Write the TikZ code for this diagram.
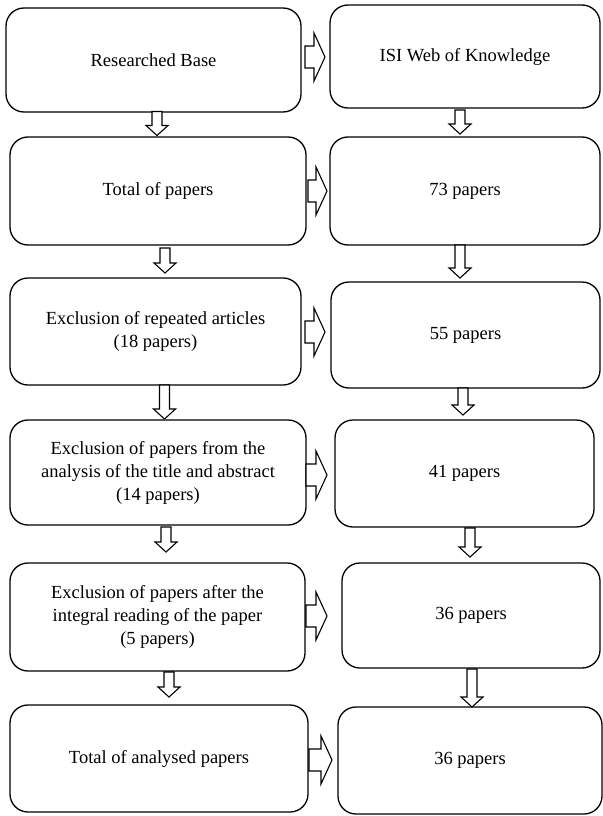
\documentclass[tikz,border=0pt]{standalone}
\usepackage{fontspec}
\setmainfont{Liberation Serif}
\tikzset{
  stepbox/.style={draw,rounded corners=18pt,line width=1.3pt,align=center,
    font=\fontsize{18.5}{23}\selectfont,inner sep=0pt},
  block/.style={draw,fill=white,line width=1.1pt,line join=miter},
  % hollow arrow pointing down, #1 = length
  pics/down arrow/.style={code={
    \draw[block] (-5,0) -- (5,0) -- (5,{#1-10}) -- (11,{#1-10}) -- (0,#1)
      -- (-11,{#1-10}) -- (-5,{#1-10}) -- cycle;}},
  % hollow arrow pointing right, #1 = length
  pics/side arrow/.style={code={
    \draw[block] (0,-11) -- ({#1-11},-11) -- ({#1-11},-24) -- (#1,0)
      -- ({#1-11},24) -- ({#1-11},11) -- (0,11) -- cycle;}}
}

\begin{document}
\begin{tikzpicture}[x=1pt,y=-1pt]
  \useasboundingbox (0,0) rectangle (602,816);
  % left column
  \node[stepbox,minimum width=295pt,minimum height=104pt] (base) at (153.5,60) {Researched Base};
  \node[stepbox,minimum width=296pt,minimum height=108pt] (total) at (158,191) {Total of papers};
  \node[stepbox,minimum width=291pt,minimum height=107pt] (repeat) at (155.5,331.5)
    {Exclusion of repeated articles\\(18 papers)};
  \node[stepbox,minimum width=296pt,minimum height=105pt] (title) at (158,472.5)
    {Exclusion of papers from the\\analysis of the title and abstract\\(14 papers)};
  \node[stepbox,minimum width=295pt,minimum height=108pt] (reading) at (157.5,617)
    {Exclusion of papers after the\\integral reading of the paper\\(5 papers)};
  \node[stepbox,minimum width=298pt,minimum height=107pt] (analysed) at (159,758.5) {Total of analysed papers};
  % right column
  \node[stepbox,minimum width=270pt,minimum height=103pt] (isi) at (465,56.5) {ISI Web of Knowledge};
  \node[stepbox,minimum width=270pt,minimum height=108pt] (n73) at (465,191) {73 papers};
  \node[stepbox,minimum width=269pt,minimum height=106pt] (n55) at (465.5,335) {55 papers};
  \node[stepbox,minimum width=259pt,minimum height=107pt] (n41) at (464.5,473.5) {41 papers};
  \node[stepbox,minimum width=258pt,minimum height=105pt] (n36a) at (471,615.5) {36 papers};
  \node[stepbox,minimum width=264pt,minimum height=107pt] (n36b) at (470,760.5) {36 papers};

  % arrows down, left
  \pic (dl1) at (157,111.5) {down arrow=24};
  \pic (dl2) at (165,248) {down arrow=25};
  \pic (dl3) at (164.5,385) {down arrow=34};
  \pic (dl4) at (166,527) {down arrow=25};
  \pic (dl5) at (169,672) {down arrow=25};
  % arrows down, right
  \pic (dr1) at (460,110) {down arrow=24};
  \pic (dr2) at (460,245) {down arrow=33};
  \pic (dr3) at (463,388) {down arrow=27};
  \pic (dr4) at (470,528) {down arrow=29};
  \pic (dr5) at (472,669) {down arrow=38};
  % arrows across
  \pic (a1) at (305,57) {side arrow=20};
  \pic (a2) at (308,191) {side arrow=19};
  \pic (a3) at (305,332) {side arrow=20};
  \pic (a4) at (306,475) {side arrow=21};
  \pic (a5) at (306,616) {side arrow=21};
  \pic (a6) at (309,760) {side arrow=23};
\end{tikzpicture}
\end{document}
